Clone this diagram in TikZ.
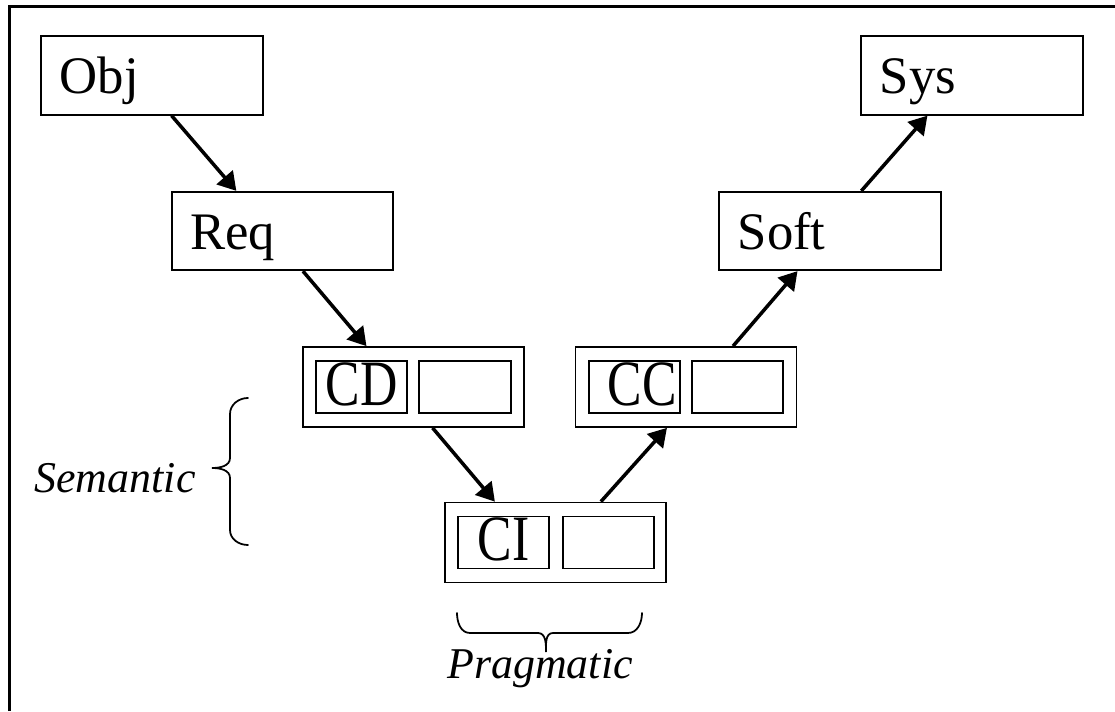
\documentclass[tikz,border=0pt]{standalone}
\usepackage{fontspec}
\setmainfont{Liberation Serif}
\usetikzlibrary{arrows.meta}

\begin{document}
\begin{tikzpicture}[
    arr/.style={-{Triangle[length=0.36cm, width=0.42cm]}, line width=2pt, black},
    box/.style={draw, line width=1pt, minimum width=4.43cm, minimum height=1.57cm,
        inner xsep=0.37cm, inner ysep=0pt, text width=3.69cm, align=left,
        text height=0.8cm, text depth=0.06cm, font=\fontsize{30}{32}\selectfont},
    pair/.style={draw, line width=1pt, minimum width=4.42cm, minimum height=1.6cm, inner sep=0pt},
    cell/.style={draw, line width=1pt, minimum width=1.83cm, minimum height=1.04cm, inner sep=0pt,
        text height=0.78cm, text depth=0.06cm, font=\fontsize{32}{34}\selectfont},
    lbl/.style={font=\fontsize{25}{27}\selectfont\itshape, anchor=base, inner sep=0pt},
    brc/.style={line width=1pt, line cap=round},
]
\useasboundingbox (0, 0) rectangle (22.30, 14.22);

% frame
\draw[line width=1.4pt] (0.19, 0) -- (0.19, 14.09) -- (22.30, 14.09);

% --- Left leg ---
\node[box] (obj) at (3.04, 12.71) {Obj};
\node[box] (req) at (5.65, 9.60) {Req};

\node[pair] (cd) at (8.27, 6.48) {};
\node[cell] (cdl) at (7.23, 6.48) {\scalebox{0.92}[1.15]{CD}};
\node[cell] (cdr) at (9.30, 6.48) {};

% --- Bottom ---
\node[pair] (ci) at (11.11, 3.37) {};
\node[cell] (cil) at (10.07, 3.37) {\scalebox{0.92}[1.15]{CI}};
\node[cell] (cir) at (12.17, 3.37) {};

% --- Right leg ---
\node[pair] (cc) at (13.72, 6.48) {};
\node[cell] (ccl) at (12.69, 6.48) {\hspace{0.3cm}\scalebox{0.92}[1.15]{CC}};
\node[cell] (ccr) at (14.75, 6.48) {};

\node[box] (soft) at (16.60, 9.60) {Soft};
\node[box] (sys) at (19.44, 12.71) {Sys};

% Arrows
\draw[arr] (obj.-64) -- (req.139);
\draw[arr] (req.-63) -- (cd.139);
\draw[arr] (cd.-65) -- (ci.146);
\draw[arr] (ci.42) -- (cc.-115);
\draw[arr] (cc.41) -- (soft.-129);
\draw[arr] (soft.52) -- (sys.-138);

% Semantic brace
\draw[brc] (4.96, 6.26) to[out=180, in=90] (4.60, 5.94) -- (4.60, 5.06)
    to[out=-90, in=0] (4.24, 4.86) to[out=0, in=90] (4.60, 4.66) -- (4.60, 3.62)
    to[out=-90, in=180] (4.96, 3.32);
\node[lbl] (sem) at (2.30, 4.38) {Semantic};

% Pragmatic brace
\draw[brc] (9.14, 1.96) to[out=-90, in=180] (9.40, 1.56) -- (10.76, 1.56)
    to[out=0, in=90] (10.92, 1.18) to[out=90, in=180] (11.06, 1.56) -- (12.56, 1.56)
    to[out=0, in=-90] (12.84, 1.96);
\node[lbl] (prag) at (10.80, 0.66) {Pragmatic};

\end{tikzpicture}
\end{document}
